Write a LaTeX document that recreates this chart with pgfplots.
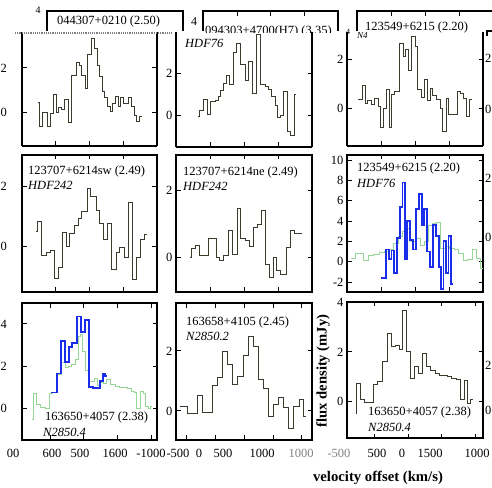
\documentclass[border=0pt]{standalone}
\usepackage{fontspec}
\setmainfont{Liberation Serif}
\usepackage{pgfplots}
\pgfplotsset{compat=1.18}
\definecolor{darkline}{RGB}{60,58,45}
\definecolor{specblue}{RGB}{25,45,235}
\definecolor{specgreen}{RGB}{150,215,150}
\pgfplotsset{
  panel/.style={scale only axis, anchor=south west,
    xmin=-1000, xmax=1000, xtick={-500,0,500}, xticklabels={},
    axis line style={line width=1.3pt}, tick style={line width=1pt, black},
    major tick length=4.5pt, tick align=inside,
    ticklabel style={font=\fontsize{12.5}{13}\selectfont},
    /pgf/number format/assume math mode=true,
    clip=true},
  toprow/.style={axis x line*=bottom, x axis line style={-}},
  leftcol/.style={yticklabel style={xshift=-11.5pt}},
  spec/.style={const plot, no markers, darkline, line width=0.9pt},
  blu/.style={const plot, no markers, specblue, line width=1.8pt},
  grn/.style={const plot, no markers, specgreen, line width=0.7pt},
}
\tikzset{lab/.style={inner sep=0pt, anchor=west, font=\fontsize{12.5}{13}\selectfont},
         ilab/.style={lab, font=\fontsize{12.5}{13}\selectfont\itshape},
         tl/.style={inner sep=0pt, font=\fontsize{12.5}{13}\selectfont},
         rl/.style={inner sep=0pt, anchor=east, font=\fontsize{12.5}{13}\selectfont}}
\begin{document}
\begin{tikzpicture}
\useasboundingbox (0,0) rectangle (492pt,487pt);
\clip (0,0) rectangle (492pt,487pt);
% ---------- Row 1 ----------
\begin{axis}[panel, toprow, leftcol, at={(22pt,341pt)}, width=135pt, height=114pt, ymin=-1.48, ymax=3.6, ytick={0,2}]
\addplot[spec] coordinates {(-768,0.45) (-743,-0.62) (-699,0.0) (-620,-0.62) (-575,-0.05) (-536,0.83) (-496,0.0) (-462,0.25) (-412,0.15) (-373,0.6) (-314,-0.45) (-274,1.67) (-190,2.25) (-156,2.1) (-116,1.67) (-67,1.08) (-27,2.6) (22,3.3) (72,2.86) (116,2.1) (146,1.6) (185,0.93) (225,0.7) (264,0.27) (304,0.04) (343,0.41) (383,0.71) (422,0.3) (462,0.7) (501,0.41) (580,0.7) (625,0.27) (659,-0.1) (699,-0.4) (738,-0.18) (773,-0.18)};
\end{axis}
\begin{axis}[panel, toprow, at={(176pt,340pt)}, width=136pt, height=115pt, ymin=-1.5, ymax=4.0, ytick={0,2}]
\addplot[spec] coordinates {(-677,-0.05) (-652,0.27) (-602,0.78) (-543,0.06) (-494,0.67) (-420,0.75) (-380,0.91) (-341,1.2) (-296,1.52) (-257,1.9) (-207,1.47) (-158,3.02) (-109,3.44) (-49,2.43) (15,1.68) (64,2.59) (128,1.07) (188,3.87) (237,1.47) (311,1.39) (365,1.23) (410,0.91) (459,0.51) (499,-0.08) (533,0.03) (583,1.15) (632,-0.77) (681,-0.93) (741,0.99) (760,0.99)};
\end{axis}
\begin{axis}[panel, toprow, at={(347pt,341pt)}, width=136pt, height=114pt, ymin=-1.54, ymax=3.1, ytick={0,2}]
\addplot[spec] coordinates {(-840,0.37) (-766,0.91) (-726,0.2) (-692,0.3) (-642,0.15) (-593,0.4) (-544,0.08) (-509,-0.78) (-470,0.0) (-420,0.75) (-381,-0.78) (-346,0.55) (-307,0.7) (-223,2.65) (-173,2.1) (-134,2.4) (-99,1.55) (-50,2.9) (0,2.5) (39,0.75) (98,0.45) (133,1.18) (182,0.3) (222,0.8) (261,0.5) (320,0.35) (370,0.0) (409,-0.95) (459,0.4) (493,-0.25) (617,0.7) (666,0.6) (716,0.4) (755,-0.35) (804,0.35) (839,0.35)};
\end{axis}
% ---------- Row 2 ----------
\begin{axis}[panel, leftcol, at={(22pt,195pt)}, width=135pt, height=137pt, ymin=-1.51, ymax=3.06, ytick={0,2}]
\addplot[spec] coordinates {(-793,0.5) (-768,0.83) (-709,-0.3) (-645,-0.2) (-575,-0.12) (-526,-1.05) (-462,-0.7) (-403,0.48) (-338,0.0) (-299,0.45) (-230,0.72) (-165,0.95) (-116,1.19) (-32,1.94) (17,1.67) (106,1.2) (146,0.78) (205,0.24) (264,0.76) (318,-0.75) (392,-0.2) (442,-0.02) (511,-0.35) (575,1.48) (634,-1.1) (689,-0.35) (758,0.25) (807,0.42) (847,0.42)};
\end{axis}
\begin{axis}[panel, at={(176pt,195pt)}, width=136pt, height=137pt, ymin=-1.03, ymax=3.04, ytick={0,2}]
\addplot[spec] coordinates {(-800,0.0) (-776,0.25) (-716,0.35) (-652,0.07) (-529,0.55) (-405,0.0) (-356,-0.1) (-297,0.05) (-233,0.8) (-173,0.1) (-99,1.45) (-50,0.55) (14,0.51) (79,0.32) (138,0.9) (197,0.98) (261,1.4) (320,-0.2) (375,-0.6) (434,0.0) (483,-0.4) (543,-0.5) (617,0.28) (681,0.8) (740,0.72) (839,0.68)};
\end{axis}
\begin{axis}[panel, at={(347pt,195pt)}, width=136pt, height=137pt, ymin=-2.98, ymax=10.5, ytick={-2,0,2,4,6,8,10}]
\addplot[grn] coordinates {(-939,0.3) (-875,0.8) (-766,0.1) (-692,0.6) (-618,0.7) (-519,0.9) (-445,1.0) (-381,1.2) (-312,1.8) (-247,2.5) (-183,3.0) (-124,3.3) (-65,2.0) (0,2.3) (74,1.6) (133,2.0) (197,3.6) (261,3.8) (320,3.9) (370,1.3) (444,1.5) (508,1.3) (577,1.2) (641,0.8) (706,0.1) (765,0.2) (839,1.2) (903,0.3) (962,-0.7) (1000,-0.7)};
\addplot[blu] coordinates {(-494,-1.6) (-430,1.2) (-386,0.3) (-346,1.1) (-312,-1.15) (-262,2.3) (-223,5.4) (-183,7.8) (-144,0.3) (-114,4.0) (-75,2.1) (-35,1.2) (14,5.2) (59,6.7) (98,3.6) (138,5.2) (172,1.0) (222,-0.5) (261,3.6) (311,2.5) (350,-0.5) (385,-2.7) (419,2.0) (459,-1.15) (493,2.5) (533,-2.2) (553,-2.2)};
\end{axis}
% ---------- Row 3 ----------
\begin{axis}[panel, leftcol, at={(22pt,47pt)}, width=135pt, height=137pt, xmin=-912, xmax=1074, xtick={-500,0,500,1000}, ymin=-1.5, ymax=4.99, ytick={0,2,4}]
\addplot[grn] coordinates {(-770,-0.5) (-745,0.7) (-696,0.2) (-637,0.05) (-574,0.0) (-510,0.7) (-461,0.75) (-392,1.6) (-329,2.2) (-280,1.95) (-231,2.0) (-182,2.1) (-133,2.3) (-84,3.4) (-59,3.5) (-20,2.7) (15,1.8) (64,1.3) (113,1.3) (152,1.4) (196,1.1) (235,1.25) (284,1.2) (333,1.35) (382,1.15) (456,1.05) (519,1.0) (578,1.0) (642,0.95) (701,0.8) (740,0.75) (774,0.0) (823,0.8) (872,0.7) (906,0.1) (946,0.0) (970,0.1) (995,0.1)};
\addplot[blu] coordinates {(-485,0.75) (-392,1.65) (-338,3.2) (-275,2.2) (-226,2.9) (-177,3.1) (-103,4.35) (-44,3.6) (19,4.2) (73,1.0) (137,0.95) (235,1.3) (274,1.65) (314,1.55) (343,1.55)};
\end{axis}
\begin{axis}[panel, at={(176pt,47pt)}, width=136pt, height=137pt, xmin=-1190, xmax=1175, xtick={-1000,-500,0,500,1000}, ymin=-0.97, ymax=3.6, ytick={0,2}]
\addplot[spec] coordinates {(-1119,0.15) (-986,-0.07) (-812,0.5) (-725,-0.05) (-551,0.85) (-464,1.1) (-377,2.0) (-290,1.55) (-203,0.87) (-116,1.15) (-12,1.85) (75,2.5) (163,2.15) (244,1.05) (336,0.75) (418,-0.2) (505,0.2) (597,0.45) (679,0.1) (771,-0.6) (858,0.15) (957,0.37) (1027,-0.2) (1073,-0.2)};
\end{axis}
\begin{axis}[panel, at={(347pt,49pt)}, width=136pt, height=136pt, xmin=-917, xmax=1119, xtick={-500,0,500,1000}, ymin=-1.45, ymax=4.0, ytick={0,2,4}]
\addplot[spec] coordinates {(-776,-0.47) (-775,0.73) (-715,0.1) (-655,-0.03) (-516,0.7) (-457,0.8) (-392,1.6) (-318,2.75) (-258,2.2) (-193,2.25) (-134,2.1) (-84,3.65) (-34,2.0) (30,0.93) (90,1.4) (154,1.13) (214,1.93) (269,1.43) (328,1.27) (403,1.13) (462,1.07) (527,1.05) (586,1.0) (651,0.93) (716,0.9) (775,0.1) (835,0.85) (889,-0.05) (934,0.1) (974,0.1)};
\end{axis}
% ---------- header boxes ----------
\draw[line width=1.3pt] (47pt,456pt) -- (47pt,476pt) -- (183pt,476pt) -- (183pt,456pt);
\draw[line width=1.3pt] (203pt,456pt) -- (203pt,476pt) -- (338pt,476pt) -- (338pt,456pt);
\draw[line width=1pt] (237pt,476pt) -- (237pt,471pt) (270pt,476pt) -- (270pt,471pt) (304pt,476pt) -- (304pt,471pt);
\draw[line width=1.3pt] (357pt,456pt) -- (357pt,476pt) -- (495pt,476pt);
\draw[line width=1pt] (391pt,476pt) -- (391pt,471pt) (425pt,476pt) -- (425pt,471pt) (459pt,476pt) -- (459pt,471pt);
\draw[line width=1.3pt] (487pt,451pt) -- (487pt,456pt) -- (495pt,456pt);
\draw[gray, densely dotted, line width=1.2pt] (15pt,454pt) -- (172pt,454pt);
\node[inner sep=0pt, font=\fontsize{10}{10}\selectfont] at (38pt,477pt) {4};
\node[inner sep=0pt, font=\fontsize{12}{12}\selectfont] at (194pt,465pt) {4};
\node[inner sep=0pt, font=\fontsize{8}{8}\selectfont] at (348pt,455pt) {4};
\node[lab] at (57pt,465pt) {044307+0210 (2.50)};
\begin{scope}
\clip (200pt,454pt) rectangle (345pt,475pt);
\node[lab] at (205pt,456pt) {094303+4700(H7) (3.35)};
\end{scope}
\node[lab] at (365pt,459pt) {123549+6215 (2.20)};
\node[ilab] at (185pt,444pt) {HDF76};
\node[inner sep=0pt, anchor=west, font=\fontsize{9}{9}\selectfont\itshape] at (357pt,451pt) {N4};
% ---------- labels at the right edge ----------
\node[rl] at (491.5pt,429pt) {2};
\node[rl] at (491.5pt,378pt) {0};
\node[rl] at (491.5pt,309pt) {2};
\node[rl] at (491.5pt,250pt) {0};
\node[rl] at (491.5pt,122pt) {2};
\node[rl] at (491.5pt,77pt) {0};
% ---------- panel labels ----------
\node[lab] at (28pt,316pt) {123707+6214sw (2.49)};
\node[ilab] at (28pt,302pt) {HDF242};
\node[lab] at (183pt,315pt) {123707+6214ne (2.49)};
\node[ilab] at (183pt,301pt) {HDF242};
\node[lab] at (357pt,319pt) {123549+6215 (2.20)};
\node[ilab] at (357pt,304pt) {HDF76};
\node[lab] at (45pt,70pt) {163650+4057 (2.38)};
\node[ilab] at (43pt,55pt) {N2850.4};
\node[lab] at (186pt,165pt) {163658+4105 (2.45)};
\node[ilab] at (186pt,151pt) {N2850.2};
\node[lab] at (368pt,75pt) {163650+4057 (2.38)};
\node[ilab] at (368pt,60pt) {N2850.4};
% ---------- bottom tick-label row ----------
\node[tl] at (13pt,34pt) {00};
\node[tl] at (52pt,34pt) {600};
\node[tl] at (80pt,34pt) {500};
\node[tl] at (115pt,34pt) {1600};
\node[tl] at (151pt,34pt) {-1000};
\node[tl] at (178pt,34pt) {-500};
\node[tl] at (199pt,34pt) {0};
\node[tl] at (223pt,34pt) {500};
\node[tl] at (262pt,34pt) {1000};
\node[tl, gray] at (301pt,34pt) {1000};
\node[tl, gray] at (339pt,34pt) {-500};
\node[tl] at (377pt,34pt) {500};
\node[tl] at (402pt,34pt) {0};
\node[tl] at (430pt,34pt) {1500};
\node[tl] at (477pt,34pt) {1000};
% ---------- axis titles ----------
\node[inner sep=0pt, font=\fontsize{14.7}{15}\selectfont\bfseries] at (378pt,9pt) {velocity offset (km/s)};
\node[inner sep=0pt, rotate=90, font=\fontsize{14.6}{15}\selectfont\bfseries] at (323pt,116pt) {flux density (mJy)};
\end{tikzpicture}
\end{document}
